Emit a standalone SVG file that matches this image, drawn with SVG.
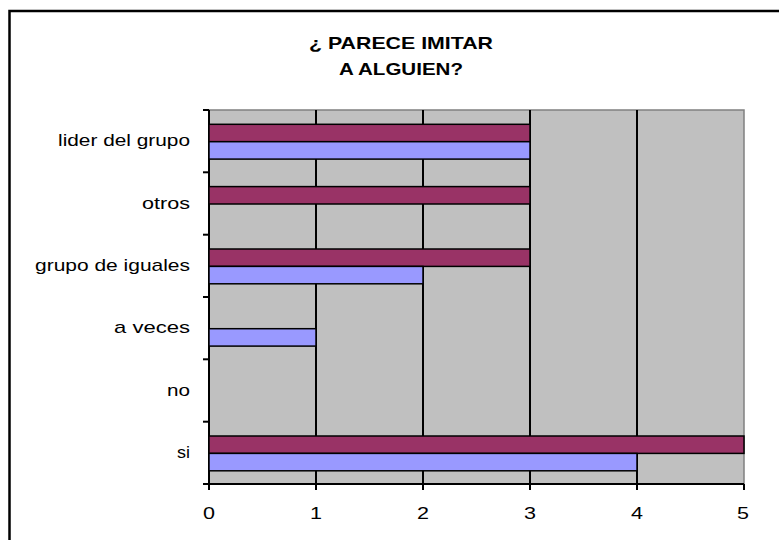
<svg xmlns="http://www.w3.org/2000/svg" width="779" height="540" viewBox="0 0 779 540">
<style>
.lbl{font-family:"Liberation Sans",Arial,sans-serif;font-size:17px;fill:#000}
.ttl{font-family:"Liberation Sans",Arial,sans-serif;font-size:17px;font-weight:bold;fill:#000}
.m{fill:#993366;stroke:#000;stroke-width:1.5}
.b{fill:#9999FF;stroke:#000;stroke-width:1.5}
.grid{stroke:#000;stroke-width:2}
</style>
<rect width="779" height="540" fill="#fff"/>
<path d="M9.5,540 V11 H779" fill="none" stroke="#000" stroke-width="2.5"/>
<g id="title">
<text class="ttl" x="401" y="49" text-anchor="middle" textLength="184" lengthAdjust="spacingAndGlyphs">¿ PARECE IMITAR</text>
<text class="ttl" x="401" y="75" text-anchor="middle" textLength="124" lengthAdjust="spacingAndGlyphs">A ALGUIEN?</text>
</g>
<g id="plot">
<rect x="209" y="110" width="535" height="374" fill="#C0C0C0" stroke="#808080" stroke-width="1.5"/>
<g class="grid">
<line x1="316" y1="110" x2="316" y2="490"/>
<line x1="423" y1="110" x2="423" y2="490"/>
<line x1="530" y1="110" x2="530" y2="490"/>
<line x1="637" y1="110" x2="637" y2="490"/>
<line x1="744" y1="484" x2="744" y2="490"/>
<line x1="209" y1="110" x2="209" y2="490"/>
<line x1="203" y1="484" x2="744" y2="484"/>
<line x1="203" y1="110" x2="209" y2="110"/>
<line x1="203" y1="172.3" x2="209" y2="172.3"/>
<line x1="203" y1="234.7" x2="209" y2="234.7"/>
<line x1="203" y1="297" x2="209" y2="297"/>
<line x1="203" y1="359.3" x2="209" y2="359.3"/>
<line x1="203" y1="421.7" x2="209" y2="421.7"/>
</g>
</g>
<g id="bars">
<rect class="m" x="209" y="124.3" width="321" height="17.4"/>
<rect class="b" x="209" y="141.7" width="321" height="17.4"/>
<rect class="m" x="209" y="186.6" width="321" height="17.4"/>
<rect class="m" x="209" y="249" width="321" height="17.4"/>
<rect class="b" x="209" y="266.4" width="214" height="17.4"/>
<rect class="b" x="209" y="328.7" width="107" height="17.4"/>
<rect class="m" x="209" y="436" width="535" height="17.4"/>
<rect class="b" x="209" y="453.4" width="428" height="17.4"/>
</g>
<g id="y-labels">
<text class="lbl" x="190" y="146" text-anchor="end" textLength="132" lengthAdjust="spacingAndGlyphs">lider del grupo</text>
<text class="lbl" x="190" y="208.5" text-anchor="end" textLength="48" lengthAdjust="spacingAndGlyphs">otros</text>
<text class="lbl" x="190" y="270.8" text-anchor="end" textLength="155" lengthAdjust="spacingAndGlyphs">grupo de iguales</text>
<text class="lbl" x="190" y="333" text-anchor="end" textLength="76" lengthAdjust="spacingAndGlyphs">a veces</text>
<text class="lbl" x="190" y="396" text-anchor="end" textLength="23" lengthAdjust="spacingAndGlyphs">no</text>
<text class="lbl" x="190" y="458.3" text-anchor="end" textLength="13" lengthAdjust="spacingAndGlyphs">si</text>
</g>
<g id="x-labels">
<text class="lbl" x="209" y="519" text-anchor="middle" textLength="12" lengthAdjust="spacingAndGlyphs">0</text>
<text class="lbl" x="316" y="519" text-anchor="middle" textLength="12" lengthAdjust="spacingAndGlyphs">1</text>
<text class="lbl" x="423" y="519" text-anchor="middle" textLength="12" lengthAdjust="spacingAndGlyphs">2</text>
<text class="lbl" x="530" y="519" text-anchor="middle" textLength="12" lengthAdjust="spacingAndGlyphs">3</text>
<text class="lbl" x="637" y="519" text-anchor="middle" textLength="12" lengthAdjust="spacingAndGlyphs">4</text>
<text class="lbl" x="743" y="519" text-anchor="middle" textLength="12" lengthAdjust="spacingAndGlyphs">5</text>
</g>
</svg>
